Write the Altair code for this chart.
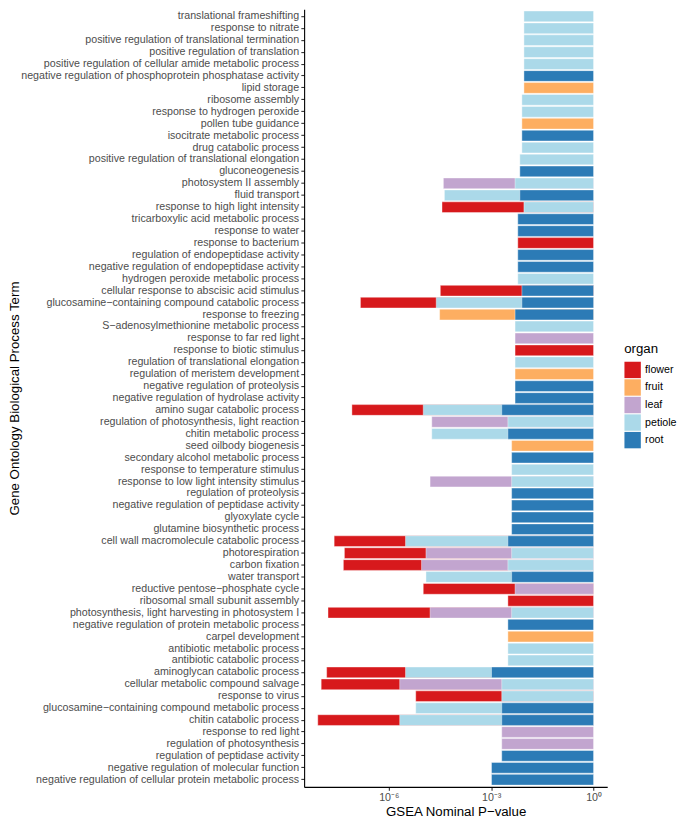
import altair as alt
import pandas as pd

terms = [
    "translational frameshifting",
    "response to nitrate",
    "positive regulation of translational termination",
    "positive regulation of translation",
    "positive regulation of cellular amide metabolic process",
    "negative regulation of phosphoprotein phosphatase activity",
    "lipid storage",
    "ribosome assembly",
    "response to hydrogen peroxide",
    "pollen tube guidance",
    "isocitrate metabolic process",
    "drug catabolic process",
    "positive regulation of translational elongation",
    "gluconeogenesis",
    "photosystem II assembly",
    "fluid transport",
    "response to high light intensity",
    "tricarboxylic acid metabolic process",
    "response to water",
    "response to bacterium",
    "regulation of endopeptidase activity",
    "negative regulation of endopeptidase activity",
    "hydrogen peroxide metabolic process",
    "cellular response to abscisic acid stimulus",
    "glucosamine\u2212containing compound catabolic process",
    "response to freezing",
    "S\u2212adenosylmethionine metabolic process",
    "response to far red light",
    "response to biotic stimulus",
    "regulation of translational elongation",
    "regulation of meristem development",
    "negative regulation of proteolysis",
    "negative regulation of hydrolase activity",
    "amino sugar catabolic process",
    "regulation of photosynthesis, light reaction",
    "chitin metabolic process",
    "seed oilbody biogenesis",
    "secondary alcohol metabolic process",
    "response to temperature stimulus",
    "response to low light intensity stimulus",
    "regulation of proteolysis",
    "negative regulation of peptidase activity",
    "glyoxylate cycle",
    "glutamine biosynthetic process",
    "cell wall macromolecule catabolic process",
    "photorespiration",
    "carbon fixation",
    "water transport",
    "reductive pentose\u2212phosphate cycle",
    "ribosomal small subunit assembly",
    "photosynthesis, light harvesting in photosystem I",
    "negative regulation of protein metabolic process",
    "carpel development",
    "antibiotic metabolic process",
    "antibiotic catabolic process",
    "aminoglycan catabolic process",
    "cellular metabolic compound salvage",
    "response to virus",
    "glucosamine\u2212containing compound metabolic process",
    "chitin catabolic process",
    "response to red light",
    "regulation of photosynthesis",
    "regulation of peptidase activity",
    "negative regulation of molecular function",
    "negative regulation of cellular protein metabolic process",
]

# log10 of the GSEA nominal p-value, by organ (1-based term index into `terms`)
flower_idx = [17, 20, 24, 25, 29, 34, 45, 46, 47, 49, 50, 51, 56, 57, 58, 60]
flower_log10p = [-4.44, -2.22, -4.49, -6.83, -2.30, -7.08, -7.60, -7.30, -7.33,
                 -4.99, -2.51, -7.78, -7.82, -7.98, -5.21, -8.08]

fruit_idx = [7, 10, 26, 31, 37, 53]
fruit_log10p = [-2.04, -2.10, -4.51, -2.30, -2.40, -2.51]

leaf_idx = [15, 28, 35, 40, 46, 47, 49, 51, 57, 61, 62]
leaf_log10p = [-4.40, -2.30, -4.74, -4.79, -4.91, -5.04, -2.30, -4.79, -5.68,
               -2.69, -2.69]

petiole_idx = [1, 2, 3, 4, 5, 8, 9, 12, 13, 15, 16, 17, 23, 25, 27, 30, 34, 35,
               36, 39, 40, 45, 46, 47, 48, 51, 54, 55, 56, 57, 58, 59, 60]
petiole_log10p = [-2.04, -2.04, -2.04, -2.04, -2.04, -2.10, -2.10, -2.10, -2.16,
                  -2.30, -4.37, -2.04, -2.22, -4.61, -2.30, -2.30, -4.99, -2.51,
                  -4.74, -2.40, -2.40, -5.51, -2.40, -2.51, -4.91, -2.40, -2.51,
                  -2.51, -5.51, -2.69, -2.69, -5.21, -5.68]

root_idx = [6, 11, 14, 16, 18, 19, 21, 22, 24, 25, 26, 32, 33, 34, 36, 38, 41,
            42, 43, 44, 45, 48, 52, 56, 59, 60, 63, 64, 65]
root_log10p = [-2.04, -2.10, -2.16, -2.16, -2.22, -2.22, -2.22, -2.22, -2.10,
               -2.10, -2.30, -2.30, -2.30, -2.69, -2.51, -2.40, -2.40, -2.40,
               -2.40, -2.40, -2.51, -2.40, -2.51, -2.99, -2.69, -2.69, -2.69,
               -2.99, -2.99]

organs = ["flower", "fruit", "leaf", "petiole", "root"]
organ_colors = ["#D7191C", "#FDAE61", "#C2A5CF", "#ABD9E9", "#2C7BB6"]

series = {
    "flower": (flower_idx, flower_log10p),
    "fruit": (fruit_idx, fruit_log10p),
    "leaf": (leaf_idx, leaf_log10p),
    "petiole": (petiole_idx, petiole_log10p),
    "root": (root_idx, root_log10p),
}

rows = []
for organ in organs:
    idx, vals = series[organ]
    for i, v in zip(idx, vals):
        rows.append({"term": terms[i - 1], "organ": organ,
                     "p": 10 ** v, "one": 1.0})
# longest bars first so that shorter ones are drawn on top
df = pd.DataFrame(rows).sort_values("p", kind="stable").reset_index(drop=True)

label_expr = ("datum.value > 0.1 ? '10\u2070' : "
              "(datum.value > 1e-4 ? '10\u207b\u00b3' : '10\u207b\u2076')")

chart = alt.Chart(df).mark_bar(stroke="white", strokeWidth=0.4).encode(
    x=alt.X("p:Q",
            scale=alt.Scale(type="log", domain=[10 ** -8.48, 10 ** 0.40],
                            nice=False, zero=False),
            axis=alt.Axis(values=[1e-6, 1e-3, 1.0], labelExpr=label_expr,
                          title="GSEA Nominal P\u2212value",
                          labelFontSize=10.7, labelColor="#4D4D4D",
                          labelPadding=2.5, tickSize=3.3,
                          titleFontSize=13.3, titleFontWeight="normal",
                          titleColor="black", titlePadding=2)),
    x2="one:Q",
    y=alt.Y("term:N", sort=terms,
            scale=alt.Scale(paddingInner=0.1, paddingOuter=0.15),
            axis=alt.Axis(title="Gene Ontology Biological Process Term",
                          labelFontSize=10.7, labelColor="#4D4D4D",
                          labelLimit=500, labelPadding=2.2, tickSize=3.3,
                          minExtent=270, maxExtent=270,
                          titleFontSize=13.3, titleFontWeight="normal",
                          titleColor="black", titlePadding=13)),
    color=alt.Color("organ:N",
                    scale=alt.Scale(domain=organs, range=organ_colors),
                    legend=alt.Legend(title="organ", orient="none",
                                      legendX=321, legendY=334,
                                      symbolType="square", symbolSize=270,
                                      symbolStrokeWidth=0, symbolOpacity=1,
                                      labelFontSize=10.7, labelColor="black",
                                      labelOffset=4, rowPadding=0.6,
                                      titleFontSize=13.3,
                                      titleFontWeight="normal",
                                      titleColor="black", titlePadding=6,
                                      padding=0)),
).properties(
    width=304, height=780, padding=0
).configure(
    font="Liberation Sans"
).configure_axis(
    grid=False, domainColor="black", domainWidth=1.1,
    tickColor="#333333", tickWidth=1.1
).configure_view(
    stroke=None
)

chart.save("out.html", embed_options={"renderer": "svg", "actions": False})
